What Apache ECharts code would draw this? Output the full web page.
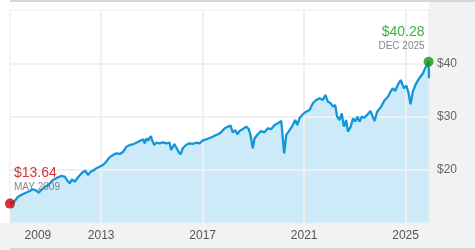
<!DOCTYPE html>
<html><head><meta charset="utf-8">
<script src="https://cdn.jsdelivr.net/npm/echarts@6/dist/echarts.min.js"></script>
<style>html,body{margin:0;padding:0;background:#fff}#c{width:475px;height:250px}</style>
</head><body><div id="c"></div>
<script>
const dates = ['2009-05-29','2009-07-26','2009-09-23','2009-12-02','2010-02-14','2010-04-26','2010-06-13','2010-07-15','2010-09-16','2010-11-28',
'2011-02-07','2011-04-19','2011-06-06','2011-07-26','2011-09-02','2011-10-04','2011-11-07','2011-12-16',
'2012-02-03','2012-04-01','2012-05-18','2012-06-24','2012-08-03','2012-09-20','2012-10-23','2012-12-09',
'2013-01-26','2013-03-13','2013-05-03','2013-06-20','2013-08-07','2013-09-27','2013-11-14',
'2014-01-01','2014-02-18','2014-04-04','2014-05-21','2014-07-11','2014-08-29','2014-09-20','2014-10-15','2014-11-07','2014-12-16',
'2015-01-04','2015-02-03','2015-03-06','2015-04-22','2015-06-09','2015-07-26','2015-09-13','2015-10-04','2015-10-26','2015-11-21','2015-12-16',
'2016-01-19','2016-02-18','2016-03-20','2016-05-07','2016-06-24','2016-08-11','2016-09-27','2016-11-14',
'2017-01-01','2017-02-18','2017-04-04','2017-05-25','2017-07-11','2017-08-11','2017-09-25','2017-11-14',
'2018-01-01','2018-02-07','2018-03-09','2018-04-15','2018-05-14','2018-06-16','2018-08-03','2018-09-20','2018-10-26','2018-11-21','2018-12-24',
'2019-01-19','2019-03-06','2019-04-22','2019-06-09','2019-07-29','2019-09-16','2019-11-03','2019-12-20',
'2020-02-07','2020-02-20','2020-03-20','2020-04-19','2020-06-06','2020-07-23','2020-08-25','2020-09-24','2020-10-26','2020-12-13',
'2021-01-30','2021-03-20','2021-05-07','2021-06-24','2021-08-11','2021-09-27','2021-11-03','2021-12-09',
'2022-01-19','2022-02-21','2022-03-24','2022-04-22','2022-05-25','2022-06-27','2022-07-26','2022-08-29','2022-09-24','2022-11-03','2022-12-06',
'2023-01-08','2023-02-07','2023-03-09','2023-04-11','2023-05-18','2023-07-05','2023-08-14','2023-09-16','2023-10-12','2023-11-18',
'2024-01-15','2024-03-06','2024-04-22','2024-05-29','2024-07-01','2024-08-03','2024-09-13','2024-10-23','2024-11-14','2024-12-09',
'2025-01-12','2025-02-14','2025-03-13','2025-04-15','2025-06-02','2025-07-23','2025-09-09','2025-10-12','2025-11-10','2025-11-28','2025-12-04'];
const values = [13.64,14.0,14.94,15.45,15.88,16.33,16.07,15.69,16.51,17.14,
18.07,18.58,18.83,18.70,17.94,17.45,18.20,17.76,
18.58,19.45,19.82,19.01,19.64,19.95,20.27,20.57,
20.89,21.51,22.33,22.77,23.09,22.96,23.39,
24.33,24.65,24.78,25.08,25.40,25.72,24.97,25.91,25.46,26.34,
25.59,24.65,25.08,24.97,25.15,24.97,25.08,23.71,23.84,24.84,24.65,
23.39,22.90,24.03,24.65,24.97,24.84,25.08,24.97,
25.46,25.72,25.91,26.21,26.53,26.66,27.03,27.78,
28.09,28.28,27.03,27.46,26.66,27.28,27.65,28.09,27.65,26.53,24.03,
25.91,26.66,27.28,27.03,27.78,27.65,28.40,28.72,
29.15,29.30,23.09,26.53,27.46,28.40,29.34,28.40,29.66,30.41,
30.90,31.22,32.48,33.10,33.42,33.10,34.04,32.78,
32.48,31.85,32.16,29.96,29.34,30.60,28.09,29.34,27.15,28.09,29.66,
29.03,29.96,29.03,29.96,29.78,30.41,31.03,29.96,29.15,30.90,
31.85,33.10,33.72,34.66,35.29,34.79,36.04,36.85,37.00,35.29,
35.79,34.35,32.29,34.66,36.24,37.29,38.11,39.17,39.67,40.28,37.17];
const gridYears = ['2013-01-01','2017-01-01','2021-01-01','2025-01-01'];
const yearLabelDates = ['2010-07-05','2013-01-01','2017-01-01','2021-01-01','2025-01-01'];
const yearLabels = ['2009','2013','2017','2021','2025'];
const priceTicks = [20,30,40];
const markerDates = ['MAY 2009','DEC 2025'];

const ts = s => new Date(s + 'T00:00:00Z').getTime();
const seriesData = dates.map((d,i)=>[ts(d), values[i]]);
const labelTs = yearLabelDates.map(ts);
let iMax = 0; values.forEach((v,i)=>{ if (v > values[iMax]) iMax = i; });

const FONT = 'Liberation Sans, Arial, sans-serif';
function markerLabel(i, color, align, dx) {
  return {
    show: true, position: 'top', distance: 5, align: align, offset: [dx, 0],
    formatter: p => '{p|$' + p.value[1].toFixed(2) + '}\n{d|' + markerDates[i] + '}',
    rich: {
      p: {fontSize: 14, color: color, fontFamily: FONT, lineHeight: 16, align: align},
      d: {fontSize: 10, color: '#666', fontFamily: FONT, lineHeight: 12, align: align}
    }
  };
}

const chart = echarts.init(document.getElementById('c'), null, {renderer: 'canvas'});
chart.setOption({
  animation: false,
  backgroundColor: '#fff',
  textStyle: {fontFamily: FONT},
  graphic: [
    {type: 'rect', z: -10, silent: true, shape: {x: 429, y: 0, width: 46, height: 250}, style: {fill: '#f2f2f2'}},
    {type: 'rect', z: -10, silent: true, shape: {x: 0, y: 223, width: 475, height: 27}, style: {fill: '#f2f2f2'}},
    {type: 'rect', z: -9, silent: true, shape: {x: 10, y: 0, width: 465, height: 2}, style: {fill: '#d6d6d6'}},
    {type: 'rect', z: -9, silent: true, shape: {x: 10, y: 248, width: 465, height: 2}, style: {fill: '#d6d6d6'}}
  ],
  grid: {left: 10, right: 46, top: 10, bottom: 27, show: true, backgroundColor: 'transparent', borderColor: '#ececec', borderWidth: 1, containLabel: false, outerBoundsMode: 'none'},
  xAxis: {
    type: 'value', min: ts(dates[0]), max: ts(dates[dates.length-1]),
    axisLine: {show: false},
    axisTick: {show: false, customValues: gridYears.map(ts)},
    splitLine: {show: true, lineStyle: {color: '#f0f0f0', width: 2}},
    axisLabel: {
      customValues: labelTs, margin: 7, color: '#555', fontSize: 12, fontFamily: FONT,
      showMinLabel: true, showMaxLabel: true,
      formatter: v => yearLabels[labelTs.indexOf(v)] || ''
    }
  },
  yAxis: {
    type: 'value', position: 'right', min: 10, max: 50, interval: 10,
    axisLine: {show: false},
    axisTick: {show: false, customValues: priceTicks},
    splitLine: {show: true, lineStyle: {color: '#f0f0f0', width: 2}},
    axisLabel: {customValues: priceTicks, margin: 8, color: '#666', fontSize: 12, fontFamily: FONT, formatter: v => '$' + v}
  },
  series: [
    {type: 'line', z: -1, data: seriesData, showSymbol: false, lineStyle: {width: 0, opacity: 0}, areaStyle: {color: '#cdeaf8', opacity: 1}, silent: true},
    {type: 'line', z: 3, data: seriesData, showSymbol: false, lineStyle: {width: 2.3, color: '#1296db'}, silent: true},
    {type: 'scatter', z: 5, clip: false, symbolSize: 10, silent: true,
      data: [
        {value: seriesData[0], itemStyle: {color: '#cc0000'}, label: markerLabel(0, '#cc0000', 'left', 4)},
        {value: seriesData[iMax], itemStyle: {color: '#119911'}, label: markerLabel(1, '#119911', 'right', -4)}
      ]
    }
  ]
});
</script></body></html>
